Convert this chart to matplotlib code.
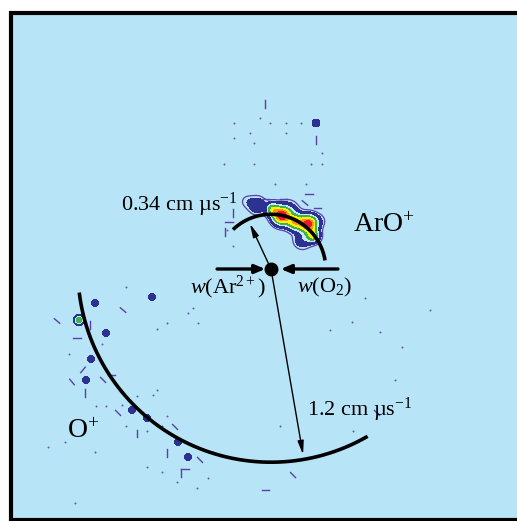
import numpy as np
import matplotlib.pyplot as plt
from matplotlib.patches import Rectangle

plt.rcParams['font.family'] = 'Liberation Serif'
plt.rcParams['mathtext.fontset'] = 'custom'
plt.rcParams['mathtext.rm'] = 'Liberation Serif'
plt.rcParams['mathtext.it'] = 'Liberation Serif:italic'

# velocities in cm/us, origin = centre of mass
v_aro = 0.34
v_o = 1.2
arc_aro = (9, 134)      # degrees
arc_o = (187, 300)

# ArO+ intensity peaks: vx, vy, amplitude, width
aro_x = [0.065, 0.232, 0.150, 0.262, 0.010, -0.085, 0.195, 0.110, -0.150, 0.300]
aro_y = [0.330, 0.280, 0.292, 0.205, 0.372, 0.395, 0.180, 0.365, 0.420, 0.300]
aro_a = [1.05, 1.05, 0.7, 0.58, 0.52, 0.26, 0.25, 0.2, 0.08, 0.08]
aro_s = [0.036, 0.036, 0.034, 0.027, 0.027, 0.035, 0.035, 0.04, 0.03, 0.03]

# O+ and stray blobs
blob_x = [-1.193, -1.093, -0.739, -1.025, -1.118, -1.149, -0.863, -0.770, -0.578, -0.516, 0.280]
blob_y = [-0.317, -0.211, -0.174, -0.398, -0.559, -0.689, -0.876, -0.925, -1.075, -1.168, 0.907]
blob_a = [0.6, 0.24, 0.24, 0.24, 0.24, 0.24, 0.24, 0.22, 0.22, 0.22, 0.26]

# single counts
dot_x = [-0.230, -0.068, -0.006, 0.093, 0.186, -0.130, 0.093, -0.230, -0.106, 0.317,
         -0.292, -0.106, 0.248, 0.317, 0.025, 0.217, -0.901, -0.516, -0.484, -0.453,
         -0.646, -0.708, -1.050, -1.255, -0.708, -0.832, -0.733, -1.087, -1.025, -0.925,
         -0.646, -0.770, -0.901, -0.677, -1.280, -1.385, -1.093, -0.770, -0.677, -0.584,
         -0.460, -0.391, -0.360, -1.217, -0.273, -0.236, 0.677, 0.814, 0.988, 0.584,
         0.503, 0.366, 0.770, 0.509, 0.056]
dot_y = [0.907, 0.938, 0.907, 0.907, 0.907, 0.845, 0.845, 0.814, 0.783, 0.720,
         0.652, 0.652, 0.652, 0.652, 0.528, 0.528, -0.112, -0.273, -0.242, -0.335,
         -0.335, -0.373, -0.466, -0.528, -0.752, -0.789, -0.783, -0.851, -0.851, -0.845,
         -0.913, -1.006, -0.975, -0.975, -1.075, -1.106, -1.137, -1.230, -1.261, -1.323,
         -1.360, -1.298, -1.137, -1.453, 0.242, 0.143, -0.391, -0.484, -0.255, -0.180,
         -0.329, -0.379, -0.689, -1.006, -0.975]

# short streaks: vx, vy, angle (deg)
dash_x = [-0.037, 0.280, 0.236, -0.037, 0.075, 0.286, 0.211, -0.261, -0.236, -0.286,
          -1.329, -0.919, -1.124, -1.205, -1.168, -1.236, -1.043, -0.988, -1.155, -0.950,
          -0.596, -0.832, -0.646, -0.534, -0.559, -0.441, 0.658, 0.137, -0.037]
dash_y = [1.025, 0.801, 0.466, 0.435, 0.435, 0.379, 0.410, 0.292, 0.348, 0.230,
          -0.323, -0.255, -0.348, -0.429, -0.627, -0.702, -0.689, -0.658, -0.770, -0.894,
          -0.981, -1.019, -1.143, -1.242, -1.267, -1.186, -0.894, -1.280, -1.373]
dash_ang = [90, 90, 0, 0, 0, 0, -40, 0, 90, 90,
            -40, -40, 90, 0, 50, -50, -45, 0, 90, -45,
            -45, 90, 90, 0, 90, -45, -45, -45, 0]

fig = plt.figure(figsize=(5.17, 5.21), dpi=100)
fig.patch.set_facecolor('white')
ax = fig.add_axes([0, 0, 1, 1])
ax.set_xlim(-271 / 161, 246 / 161)
ax.set_ylim(-252 / 161, 269 / 161)
ax.axis('off')

ax.add_patch(Rectangle((0.021, 0.002), 1.0, 0.973, transform=fig.transFigure,
                       facecolor='#B8E4F8', edgecolor='black', lw=3, zorder=0,
                       clip_on=False))

# intensity map
gx = np.linspace(-1.7, 1.55, 700)
gy = np.linspace(-1.58, 1.68, 700)
X, Y = np.meshgrid(gx, gy)
Za = np.zeros_like(X)
for x, y, a, s in zip(aro_x, aro_y, aro_a, aro_s):
    Za += a * np.exp(-((X - x) ** 2 + (Y - y) ** 2) / (2 * s ** 2))
Zb = np.zeros_like(X)
for x, y, a in zip(blob_x, blob_y, blob_a):
    Zb += a * np.exp(-((X - x) ** 2 + (Y - y) ** 2) / (2 * 0.019 ** 2))
levels = [0.12, 0.3, 0.42, 0.6, 0.78, 0.95, 10]
cols = ['#2D3192', '#C4E8F7', '#39B54A', '#FFF200', '#F7941D', '#ED1C24']
ax.contourf(X, Y, Za + Zb, levels=levels, colors=cols, zorder=2)
ax.contour(X, Y, Za, levels=[0.06], colors='#5B3FA8', linewidths=0.9, zorder=2)

ax.scatter(dot_x, dot_y, s=2, color='#6A55B5', lw=0, zorder=2)
L = 0.022
for x, y, a in zip(dash_x, dash_y, dash_ang):
    t = np.radians(a)
    ax.plot([x - L * np.cos(t), x + L * np.cos(t)], [y - L * np.sin(t), y + L * np.sin(t)],
            color='#5B3FA8', lw=1, zorder=2)

# Newton circles
for r, (a0, a1) in [(v_aro, arc_aro), (v_o, arc_o)]:
    th = np.radians(np.linspace(a0, a1, 200))
    ax.plot(r * np.cos(th), r * np.sin(th), color='black', lw=2.6, zorder=3,
            solid_capstyle='butt')

# velocity vectors
for r, ang in [(0.31, 115), (1.17, -80.2)]:
    t = np.radians(ang)
    ax.annotate('', xy=(r * np.cos(t), r * np.sin(t)), xytext=(0, 0),
                arrowprops=dict(arrowstyle='-|>,head_length=0.8,head_width=0.18',
                                color='black', lw=1, shrinkA=0, shrinkB=0), zorder=4)
for x0, x1 in [(-0.335, -0.035), (0.416, 0.06)]:
    ax.annotate('', xy=(x1, 0), xytext=(x0, 0),
                arrowprops=dict(arrowstyle='-|>,head_length=0.6,head_width=0.25',
                                color='black', lw=2.4, shrinkA=0, shrinkB=0), zorder=4)
ax.plot([0], [0], 'o', color='black', ms=9, zorder=5)

ts = 16
ax.text(-0.93, 0.398, '0.34 cm µs$^{\\mathregular{-1}}$', fontsize=ts, va='center', zorder=6)
ax.text(0.509, 0.273, 'ArO$^{+}$', fontsize=20, va='center', zorder=6)
ax.text(-0.503, -0.112, '$w$(Ar$^{2+}$)', fontsize=ts, va='center', zorder=6)
ax.text(0.161, -0.112, '$w$(O$_2$)', fontsize=ts, va='center', zorder=6)
ax.text(0.224, -0.876, '1.2 cm µs$^{\\mathregular{-1}}$', fontsize=ts, va='center', zorder=6)
ax.text(-1.267, -1.012, 'O$^{+}$', fontsize=20, va='center', zorder=6)

fig.savefig('out.png', dpi=100)
